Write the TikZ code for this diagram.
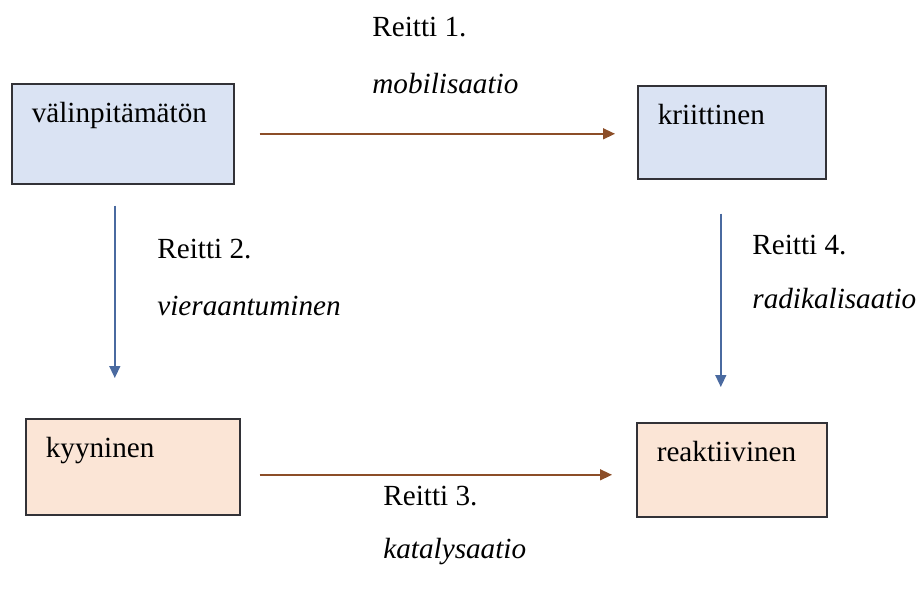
\documentclass[tikz,border=0pt]{standalone}
\usepackage{fontspec}
\setmainfont{Liberation Serif}
\usetikzlibrary{positioning,calc,arrows.meta}
\definecolor{boxblue}{RGB}{218,227,243}
\definecolor{boxpeach}{RGB}{251,229,214}
\definecolor{routebrown}{RGB}{140,78,40}
\definecolor{routeblue}{RGB}{74,106,160}
\definecolor{edgegray}{RGB}{50,50,55}

\begin{document}
\begin{tikzpicture}[x=0.5pt,y=-0.5pt,font=\fontsize{14.6}{18}\selectfont,
	tila/.style={draw=edgegray,line width=0.8pt,anchor=north west,align=left,
		inner xsep=10pt,inner ysep=0pt,text height=19.5pt},
	reitti/.style={line width=0.7pt,color=routebrown,-{Triangle[length=6pt,width=5.5pt]}},
	vreitti/.style={reitti,color=routeblue},
	nimi/.style={anchor=base west,inner sep=0pt}]
	%\draw[help lines] (0,0) grid[step=50] (921,589);
	\useasboundingbox (0,0) rectangle (921,589);
	\node[tila,fill=boxblue,text width=91pt,text depth=30.5pt] (valin) at (11,83) {välinpitämätön};
	\node[tila,fill=boxblue,text width=74pt,text depth=27pt] (kriit) at (637,85) {kriittinen};
	\node[tila,fill=boxpeach,text width=87pt,text depth=28.5pt] (kyyn) at (25,418) {kyyninen};
	\node[tila,fill=boxpeach,text width=75pt,text depth=27.5pt] (reakt) at (636,422) {reaktiivinen};
	\draw[reitti,shorten <=12.5pt,shorten >=11pt] (valin.east) -- (valin.east -| kriit.west);
	\draw[vreitti,shorten <=10.5pt,shorten >=20pt] ([xshift=-4pt]valin.south) -- ([xshift=-4pt]valin.south |- kyyn.north);
	\draw[reitti,shorten <=9.5pt,shorten >=12pt] ([yshift=-4pt]kyyn.east) -- ([yshift=-4pt]kyyn.east -| reakt.west);
	\draw[vreitti,shorten <=17pt,shorten >=17.5pt] ([xshift=-5.5pt]kriit.south) -- ([xshift=-5.5pt]kriit.south |- reakt.north);
	\node[nimi] (r1) at (372,36) {Reitti 1.};
	\node[nimi] (m1) at (372,93) {\itshape mobilisaatio};
	\node[nimi] (r2) at (157,258) {Reitti 2.};
	\node[nimi] (m2) at (157,315) {\itshape vieraantuminen};
	\node[nimi] (r3) at (383,505) {Reitti 3.};
	\node[nimi] (m3) at (383,558) {\itshape katalysaatio};
	\node[nimi] (r4) at (752,254) {Reitti 4.};
	\node[nimi] (m4) at (752,308) {\itshape radikalisaatio};
\end{tikzpicture}
\end{document}
